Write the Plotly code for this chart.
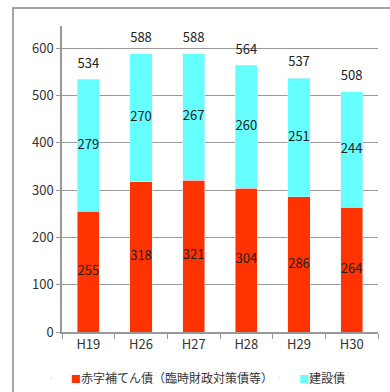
import plotly.graph_objects as go

categories = ["H19", "H26", "H27", "H28", "H29", "H30"]
deficit = [255, 318, 321, 304, 286, 264]
construction = [279, 270, 267, 260, 251, 244]
totals = [534, 588, 588, 564, 537, 508]
name_deficit = "赤字補てん債（臨時財政対策債等）"
name_construction = "建設債"

FONT = "Noto Sans CJK JP, Meiryo, sans-serif"
RED = "#FF3300"
CYAN = "#66FFFF"
TXT = dict(color="#222", size=13, family=FONT)

fig = go.Figure()
fig.add_trace(go.Bar(x=categories, y=deficit, name=name_deficit, marker_color=RED,
                     width=0.42, showlegend=False))
fig.add_trace(go.Bar(x=categories, y=construction, name=name_construction, marker_color=CYAN,
                     width=0.42, showlegend=False))
# segment labels
fig.add_trace(go.Scatter(x=categories, y=[d / 2 for d in deficit], mode="text",
                         text=[str(d) for d in deficit], textposition="middle center",
                         textfont=TXT, showlegend=False, hoverinfo="skip"))
fig.add_trace(go.Scatter(x=categories, y=[d + c / 2 for d, c in zip(deficit, construction)],
                         mode="text", text=[str(c) for c in construction],
                         textposition="middle center", textfont=TXT, showlegend=False,
                         hoverinfo="skip"))
fig.add_trace(go.Scatter(x=categories, y=totals, mode="markers+text", text=[str(t) for t in totals],
                         textposition="top center", textfont=TXT, showlegend=False,
                         marker=dict(size=12, opacity=0), cliponaxis=False, hoverinfo="skip"))


def sq(color):
    return f"<span style='color:{color};font-size:10px'>■</span>"


# legend entries (one legend box per entry, square drawn in the label)
fig.add_trace(go.Scatter(x=[None], y=[None], mode="markers", name=sq(RED) + name_deficit,
                         marker=dict(size=1, opacity=0), legend="legend"))
fig.add_trace(go.Scatter(x=[None], y=[None], mode="markers", name=sq(CYAN) + name_construction,
                         marker=dict(size=1, opacity=0), legend="legend2"))

leg = dict(orientation="h", xref="container", yref="container", y=0.036,
           xanchor="left", yanchor="middle", font=dict(size=12, family=FONT, color="#333"),
           itemwidth=30, bgcolor="rgba(0,0,0,0)")
fig.update_layout(
    width=390, height=392, barmode="stack",
    margin=dict(l=62, r=12, t=26, b=60, autoexpand=False),
    plot_bgcolor="white", paper_bgcolor="white",
    font=dict(family=FONT, size=13, color="#333"),
    legend=dict(leg, x=31 / 390),
    legend2=dict(leg, x=259 / 390),
)
fig.update_xaxes(
    showline=True, linecolor="#999", linewidth=1.5, ticks="outside", tickson="boundaries",
    ticklen=5, tickcolor="#999", tickfont=dict(size=13, color="#333"),
)
fig.update_yaxes(
    range=[0, 647], tickvals=[0, 100, 200, 300, 400, 500, 600], showgrid=True,
    gridcolor="#999", gridwidth=1, showline=True, linecolor="#999", linewidth=1.5,
    ticks="outside", ticklen=4, tickcolor="#999", tickfont=dict(size=13, color="#333"),
    zeroline=False,
)
fig.add_shape(type="rect", xref="paper", yref="paper", x0=-0.155, x1=1.2, y0=-0.4, y1=1.0588,
              line=dict(color="#888", width=1.5), fillcolor="rgba(0,0,0,0)", layer="below")
fig.add_annotation(xref="paper", yref="paper", x=1.085, y=1.085, xanchor="right", yanchor="bottom",
                   text="（単位：億円）", showarrow=False, font=dict(size=13, color="#333", family=FONT))

fig.write_html("out.html", config={"displayModeBar": False},
               post_script="document.body.style.margin='0';")
